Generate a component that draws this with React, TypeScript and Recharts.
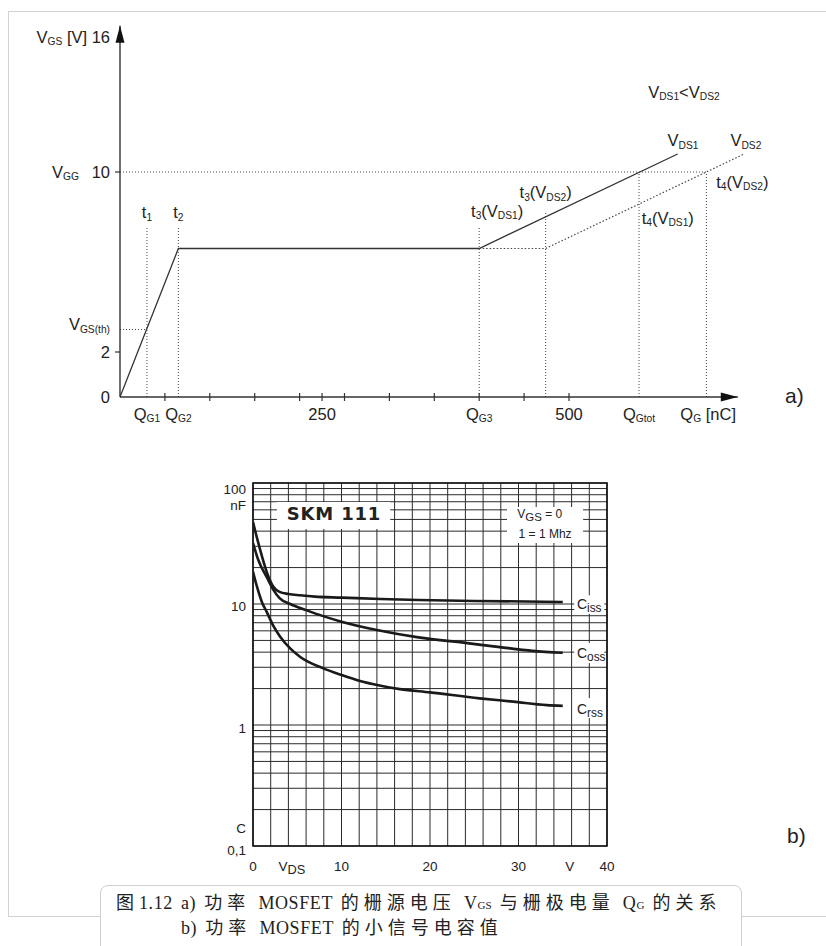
import React from "react";
import {
  LineChart,
  Line,
  XAxis,
  YAxis,
  CartesianGrid,
  ReferenceLine,
  ReferenceDot,
  ReferenceArea,
} from "recharts";

const SANS = '"Liberation Sans", Arial, sans-serif';
const SERIF = '"Liberation Serif", "Noto Sans CJK SC", serif';
const INK = "#222";

// ---- a) V_GS over gate charge Q_G ----
const qgVds1 = [0, 65, 400, 621];
const vgsVds1 = [0, 6.6, 6.6, 10.8];
const qgVds2 = [400, 474, 695];
const vgsVds2 = [6.6, 6.6, 10.8];

const qgMarks = [50, 100, 150, 200, 225, 250, 300, 350, 400, 450, 500];
const qgLabelAt = [30, 65, 225, 400, 500, 578, 655];
const qgLabels = ["Q_{G1}", "Q_{G2}", "250", "Q_{G3}", "500", "Q_{Gtot}", "Q_{G} [nC]"];

const vgsTicks = [0, 2, 3, 10, 16];
const vgsMarks = [2, 10];
const vgsLabels = ["0", "2", "V_{GS(th)}", "10", "V_{GS} [V] 16"];

// switching instants t1..t4: charge and top of the drop line
const tQ = [30, 65, 400, 474, 578, 653];
const tTop = [7.6, 7.6, 7.6, 8.2, 10, 10];
const vgg = 10;
const vth = 3;

const noteText = [
  "t_{1}",
  "t_{2}",
  "t_{3}(V_{DS1})",
  "t_{3}(V_{DS2})",
  "t_{4}(V_{DS1})",
  "t_{4}(V_{DS2})",
  "V_{DS1}",
  "V_{DS2}",
  "V_{DS1}<V_{DS2}",
];
const noteQ = [30, 65, 420, 474, 610, 693, 627, 697, 628];
const noteV = [8.2, 8.2, 8.27, 9.1, 7.95, 9.55, 11.4, 11.4, 13.55];

// ---- b) small signal capacitances SKM 111 ----
const vdsGrid = [0, 2, 4, 6, 8, 10, 12, 14, 16, 18, 20, 22, 24, 26, 28, 30, 32, 34, 36, 38, 40];
const vdsLabelAt = [0, 10, 20, 30, 40];
const capGrid = [
  0.1, 0.2, 0.3, 0.4, 0.5, 0.6, 0.7, 0.8, 0.9,
  1, 2, 3, 4, 5, 6, 7, 8, 9,
  10, 20, 30, 40, 50, 60, 70, 80, 90, 100,
];
const capLabelAt = [100, 10, 1, 0.1];
const capLabels = ["100", "10", "1", "0,1"];

const vIss = [0, 0.5, 1.0, 1.6, 2.3, 3, 4, 5.3, 7, 10, 14.4, 18.7, 25, 35];
const cIss = [47.6, 34, 25, 18, 13.9, 12.6, 12.1, 11.8, 11.5, 11.3, 11.0, 10.8, 10.6, 10.4];
const vOss = [0, 0.6, 1.6, 2.3, 3, 4.2, 6, 8, 10, 14, 18.7, 24.2, 27.9, 31.6, 35];
const cOss = [31.9, 23.1, 16.4, 13.1, 11.2, 10.0, 8.9, 7.9, 7.15, 6.1, 5.3, 4.75, 4.4, 4.1, 3.95];
const vRss = [0, 0.45, 1.0, 1.55, 2.3, 3.05, 4.2, 5.3, 7.95, 10, 12.1, 14.3, 16.6, 20, 25.6, 29.4, 33.2, 35];
const cRss = [18.5, 13.9, 10.4, 8.6, 6.6, 5.4, 4.3, 3.67, 2.94, 2.59, 2.31, 2.12, 1.98, 1.86, 1.66, 1.56, 1.46, 1.44];

// caption lines, "_" marks a subscript run
const captionA = ["图1.12 a) 功率 MOSFET 的栅源电压 V", "_GS", " 与栅极电量 Q", "_G", " 的关系"];
const captionB = ["b) 功率 MOSFET 的小信号电容值"];

const zip = (xs: number[], ys: number[], kx: string, ky: string) =>
  xs.map((x, i) => ({ [kx]: x, [ky]: ys[i] }));

type RichProps = {
  x: number;
  y: number;
  s: string;
  size?: number;
  anchor?: "start" | "middle" | "end";
  sub?: number;
  drop?: number;
  weight?: number | string;
  family?: string;
  spacing?: number;
};

// text with V_{GS} style subscripts, y = vertical centre
function Rich({ x, y, s, size = 16.5, anchor = "middle", sub = 0.62, drop = 2.5, weight, family = SANS, spacing }: RichProps) {
  const parts = s.split(/(_\{[^}]*\})/).filter((p) => p !== "");
  let low = false;
  return (
    <text
      x={x}
      y={y + size * 0.35}
      fontSize={size}
      fontFamily={family}
      fontWeight={weight}
      letterSpacing={spacing}
      fill={INK}
      textAnchor={anchor}
      style={{ whiteSpace: "pre" }}
    >
      {parts.map((p, i) => {
        const isSub = p.startsWith("_{");
        const dy = isSub === low ? 0 : isSub ? drop : -drop;
        low = isSub;
        return (
          <tspan key={i} dy={dy} fontSize={isSub ? size * sub : undefined}>
            {isSub ? p.slice(2, -1) : p}
          </tspan>
        );
      })}
    </text>
  );
}

// caption text: wide spacing for CJK runs only
function CaptionLine({ parts }: { parts: string[] }) {
  return (
    <>
      {parts.map((p, i) => {
        if (p.startsWith("_")) {
          return (
            <span key={i} style={{ fontSize: 11, letterSpacing: 0 }}>
              {p.slice(1)}
            </span>
          );
        }
        return p.split(/([\u4e00-\u9fff]+)/).map((r, j) =>
          /[\u4e00-\u9fff]/.test(r) ? (
            <span key={i + "-" + j} style={{ letterSpacing: 5 }}>
              {r}
            </span>
          ) : (
            <span key={i + "-" + j} style={{ letterSpacing: 0.6, wordSpacing: 3 }}>
              {r}
            </span>
          )
        );
      })}
    </>
  );
}

const A_LEFT = 120;
const A_AXIS_Y = 397;

function QgTick(p: any) {
  const v = p.payload.value;
  const x = p.x;
  const li = qgLabelAt.indexOf(v);
  return (
    <g>
      {qgMarks.includes(v) && (
        <line x1={x} x2={x} y1={A_AXIS_Y - 4} y2={A_AXIS_Y + 4} stroke="#333" strokeWidth={1.2} />
      )}
      {li >= 0 && <Rich x={x} y={A_AXIS_Y + 17} s={qgLabels[li]} />}
    </g>
  );
}

function VgsTick(p: any) {
  const v = p.payload.value;
  const y = p.y;
  const li = vgsTicks.indexOf(v);
  return (
    <g>
      {vgsMarks.includes(v) && (
        <line x1={A_LEFT - 5} x2={A_LEFT} y1={y} y2={y} stroke="#333" strokeWidth={1.2} />
      )}
      <Rich x={A_LEFT - 10} y={v === vth ? y - 5 : y} s={vgsLabels[li]} anchor="end" />
      {v === vgg && <Rich x={52} y={y} s="V_{GG}" anchor="start" />}
    </g>
  );
}

const arrowShape = (p: any) => {
  const { x1, y1, x2, y2 } = p;
  const horiz = Math.abs(x2 - x1) > Math.abs(y2 - y1);
  const head = horiz
    ? `${x2},${y2} ${x2 - 17},${y2 - 4.5} ${x2 - 17},${y2 + 4.5}`
    : `${x2},${y2} ${x2 - 4.5},${y2 + 17} ${x2 + 4.5},${y2 + 17}`;
  return (
    <g>
      <line x1={x1} y1={y1} x2={x2} y2={y2} stroke="#333" strokeWidth={1.4} />
      <polygon points={head} fill="#111" />
    </g>
  );
};

const note = (s: string, opts: Partial<RichProps> = {}, dy = 0) => (p: any) => (
  <Rich x={p.cx} y={p.cy + dy} s={s} {...opts} />
);

const B_TOP = 440;
const B_AXIS_Y = 846 - B_TOP;

function VdsTick(p: any) {
  const v = p.payload.value;
  if (!vdsLabelAt.includes(v)) return <g />;
  return <Rich x={p.x} y={B_AXIS_Y + 20} s={String(v)} size={13.5} />;
}

function CapTick(p: any) {
  const v = p.payload.value;
  const li = capLabelAt.indexOf(v);
  if (li < 0) return <g />;
  const off = v === 100 ? 6 : v === 10 ? 2 : v === 1 ? 3 : 4;
  return (
    <g>
      <Rich x={246} y={p.y + off} s={capLabels[li]} size={13.5} anchor="end" />
      {v === 100 && <Rich x={246} y={p.y + 22} s="nF" size={13.5} anchor="end" />}
      {v === 0.1 && <Rich x={246} y={p.y - 18} s="C" size={13.5} anchor="end" />}
    </g>
  );
}

export default function App() {
  const qgTicks = Array.from(new Set([...qgMarks, ...qgLabelAt])).sort((a, b) => a - b);
  const vds1Data = zip(qgVds1, vgsVds1, "q", "v");
  const vds2Data = zip(qgVds2, vgsVds2, "q", "v");
  const issData = zip(vIss, cIss, "v", "c");
  const ossData = zip(vOss, cOss, "v", "c");
  const rssData = zip(vRss, cRss, "v", "c");
  const dot = { stroke: "#444", strokeWidth: 1, strokeDasharray: "1 2", ifOverflow: "visible" as const };
  const curve = { type: "monotone" as const, stroke: "#1a1a1a", strokeWidth: 2.6, dot: false, isAnimationActive: false };
  const capBox = { fill: "#fff", fillOpacity: 1, stroke: "none", ifOverflow: "visible" as const };

  return (
    <div style={{ position: "absolute", left: 0, top: 0, width: 826, height: 946, overflow: "hidden", background: "#fff" }}>
      <div style={{ position: "absolute", left: 8, top: 11, width: 840, height: 904, border: "1.5px solid #d2d2d2" }} />

      <div style={{ position: "absolute", left: 0, top: 0 }}>
        <LineChart width={826} height={460} margin={{ top: 37, right: 77.4, bottom: 33, left: 60 }}>
          <XAxis
            type="number"
            dataKey="q"
            domain={[0, 700]}
            ticks={qgTicks}
            interval={0}
            height={30}
            tickLine={false}
            axisLine={false}
            tick={QgTick}
            allowDataOverflow
          />
          <YAxis
            type="number"
            domain={[0, 16]}
            ticks={vgsTicks}
            interval={0}
            width={60}
            tickLine={false}
            axisLine={false}
            tick={VgsTick}
            allowDataOverflow
          />
          <ReferenceLine segment={[{ x: 0, y: vgg }, { x: tQ[5], y: vgg }]} {...dot} />
          <ReferenceLine segment={[{ x: 0, y: vth }, { x: tQ[0], y: vth }]} {...dot} />
          {tQ.map((q, i) => (
            <ReferenceLine key={"t" + i} segment={[{ x: q, y: 0 }, { x: q, y: tTop[i] }]} {...dot} />
          ))}
          <ReferenceLine segment={[{ x: 0, y: 0 }, { x: 688, y: 0 }]} shape={arrowShape} ifOverflow="visible" />
          <ReferenceLine segment={[{ x: 0, y: 0 }, { x: 0, y: 16.5 }]} shape={arrowShape} ifOverflow="visible" />
          <Line data={vds1Data} dataKey="v" type="linear" stroke="#333" strokeWidth={1.3} dot={false} isAnimationActive={false} />
          <Line
            data={vds2Data}
            dataKey="v"
            type="linear"
            stroke="#444"
            strokeWidth={1.2}
            strokeDasharray="1.5 2"
            dot={false}
            isAnimationActive={false}
          />
          {noteText.map((s, i) => (
            <ReferenceDot key={"n" + i} x={noteQ[i]} y={noteV[i]} r={0} ifOverflow="visible" shape={note(s)} />
          ))}
        </LineChart>
      </div>

      <div style={{ position: "absolute", left: 0, top: B_TOP }}>
        <LineChart width={826} height={440} margin={{ top: 43, right: 219, bottom: 4, left: 203 }}>
          <CartesianGrid stroke="#2b2b2b" strokeWidth={1} />
          <XAxis
            type="number"
            dataKey="v"
            domain={[0, 40]}
            ticks={vdsGrid}
            interval={0}
            height={30}
            tickLine={false}
            axisLine={false}
            tick={VdsTick}
            allowDataOverflow
          />
          <YAxis
            type="number"
            scale="log"
            domain={[0.1, 100]}
            ticks={capGrid}
            interval={0}
            width={50}
            tickLine={false}
            axisLine={false}
            tick={CapTick}
            allowDataOverflow
          />
          <ReferenceArea x1={2.7} x2={15.5} y1={41.7} y2={69.6} {...capBox} />
          <ReferenceArea x1={28.7} x2={37.3} y1={31.9} y2={63.3} {...capBox} />
          <ReferenceArea x1={36.3} x2={39.7} y1={8.3} y2={11.8} {...capBox} />
          <ReferenceArea x1={36.3} x2={39.7} y1={3.25} y2={4.77} {...capBox} />
          <ReferenceArea x1={36.3} x2={39.7} y1={1.14} y2={1.67} {...capBox} />
          <ReferenceArea x1={0} x2={40} y1={0.1} y2={100} fill="none" stroke="#111" strokeWidth={1.6} />
          <Line data={issData} dataKey="c" {...curve} />
          <Line data={ossData} dataKey="c" {...curve} />
          <Line data={rssData} dataKey="c" {...curve} />
          <ReferenceDot x={9.15} y={55.5} r={0} ifOverflow="visible"
            shape={note("SKM 111", { size: 18, weight: 900, family: '"DejaVu Sans", sans-serif', spacing: 0.8 })} />
          <ReferenceDot x={32.4} y={55.5} r={0} ifOverflow="visible" shape={note("V_{GS} = 0", { size: 12, sub: 0.95, drop: 3 })} />
          <ReferenceDot x={33} y={37.9} r={0} ifOverflow="visible" shape={note("1 = 1 Mhz", { size: 12 })} />
          <ReferenceDot x={36.6} y={10} r={0} ifOverflow="visible" shape={note("C_{iss}", { size: 14, sub: 0.85, drop: 3, anchor: "start" })} />
          <ReferenceDot x={36.6} y={3.94} r={0} ifOverflow="visible" shape={note("C_{oss}", { size: 14, sub: 0.85, drop: 3, anchor: "start" })} />
          <ReferenceDot x={36.6} y={1.36} r={0} ifOverflow="visible" shape={note("C_{rss}", { size: 14, sub: 0.85, drop: 3, anchor: "start" })} />
          <ReferenceDot x={4.4} y={0.1} r={0} ifOverflow="visible" shape={note("V_{DS}", { size: 13.5, sub: 0.95, drop: 3 }, 20)} />
          <ReferenceDot x={35.8} y={0.1} r={0} ifOverflow="visible" shape={note("V", { size: 13.5 }, 20)} />
        </LineChart>
      </div>

      <div style={{ position: "absolute", left: 785, top: 384, fontFamily: SANS, fontSize: 21, color: INK }}>a)</div>
      <div style={{ position: "absolute", left: 787, top: 824, fontFamily: SANS, fontSize: 21, color: INK }}>b)</div>

      <div
        style={{
          position: "absolute",
          left: 100,
          top: 885,
          width: 640,
          height: 72,
          border: "1.5px solid #cfcfcf",
          borderRadius: 8,
          background: "#fff",
          fontFamily: SERIF,
          fontSize: 18,
          color: INK,
          lineHeight: "24px",
        }}
      >
        <div style={{ position: "absolute", left: 15, top: 5, whiteSpace: "nowrap" }}>
          <CaptionLine parts={captionA} />
        </div>
        <div style={{ position: "absolute", left: 80, top: 30, whiteSpace: "nowrap" }}>
          <CaptionLine parts={captionB} />
        </div>
      </div>
    </div>
  );
}
